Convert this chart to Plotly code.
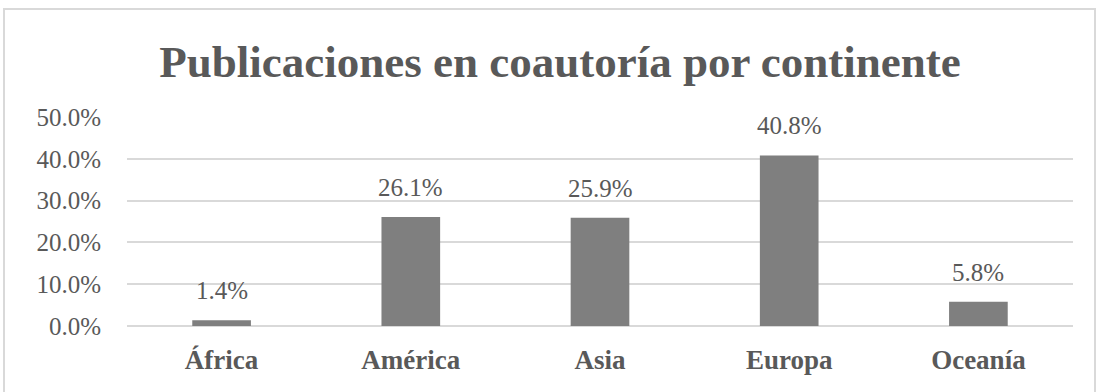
import plotly.graph_objects as go

categories = ["África", "América", "Asia", "Europa", "Oceanía"]
values = [0.014, 0.261, 0.259, 0.408, 0.058]
tick_vals = [0, 0.1, 0.2, 0.3, 0.4, 0.5]
tick_text = ["0.0%", "10.0%", "20.0%", "30.0%", "40.0%", "50.0%"]
title_text = "Publicaciones en coautoría por continente"

W, H = 1097, 392
L, R, T, B = 127, 24, 117, 66
FONT = "Liberation Serif"

fig = go.Figure()
fig.add_trace(go.Bar(
    x=categories, y=values,
    marker=dict(color="#7f7f7f", line=dict(width=0)),
    hoverinfo="skip",
))

for c, v in zip(categories, values):
    fig.add_annotation(
        x=c, y=v, text=f"{v*100:.1f}%", showarrow=False,
        yanchor="bottom", yshift=14,
        font=dict(family=FONT, size=25, color="#595959"),
    )

pw = W - L - R
ph = H - T - B
fig.add_shape(
    type="rect", xref="paper", yref="paper",
    x0=(4 - L) / pw, x1=(1095 - L) / pw,
    y0=1 - (400 - T) / ph, y1=1 + (T - 9) / ph,
    line=dict(color="#d9d9d9", width=2), fillcolor="rgba(0,0,0,0)",
    layer="below",
)

fig.update_layout(
    width=W, height=H,
    margin=dict(l=L, r=R, t=T, b=B),
    paper_bgcolor="white", plot_bgcolor="white",
    showlegend=False,
    bargap=0.69,
    title=dict(
        text=title_text, x=560 / W, xref="container", xanchor="center",
        y=1 - 61 / H, yanchor="middle",
        font=dict(family=FONT, size=45, color="#595959", weight="bold"),
    ),
    xaxis=dict(
        showgrid=False, showline=False, ticks="",
        tickfont=dict(family=FONT, size=27, color="#595959", weight="bold"),
        ticklabelstandoff=15,
    ),
    yaxis=dict(
        range=[0, 0.5], tickvals=tick_vals, ticktext=tick_text,
        showgrid=True, gridcolor="#d9d9d9", gridwidth=2,
        zeroline=True, zerolinecolor="#d9d9d9", zerolinewidth=2,
        tickfont=dict(family=FONT, size=25, color="#595959"),
        ticklabelstandoff=25,
    ),
)

fig.write_html("out.html")
